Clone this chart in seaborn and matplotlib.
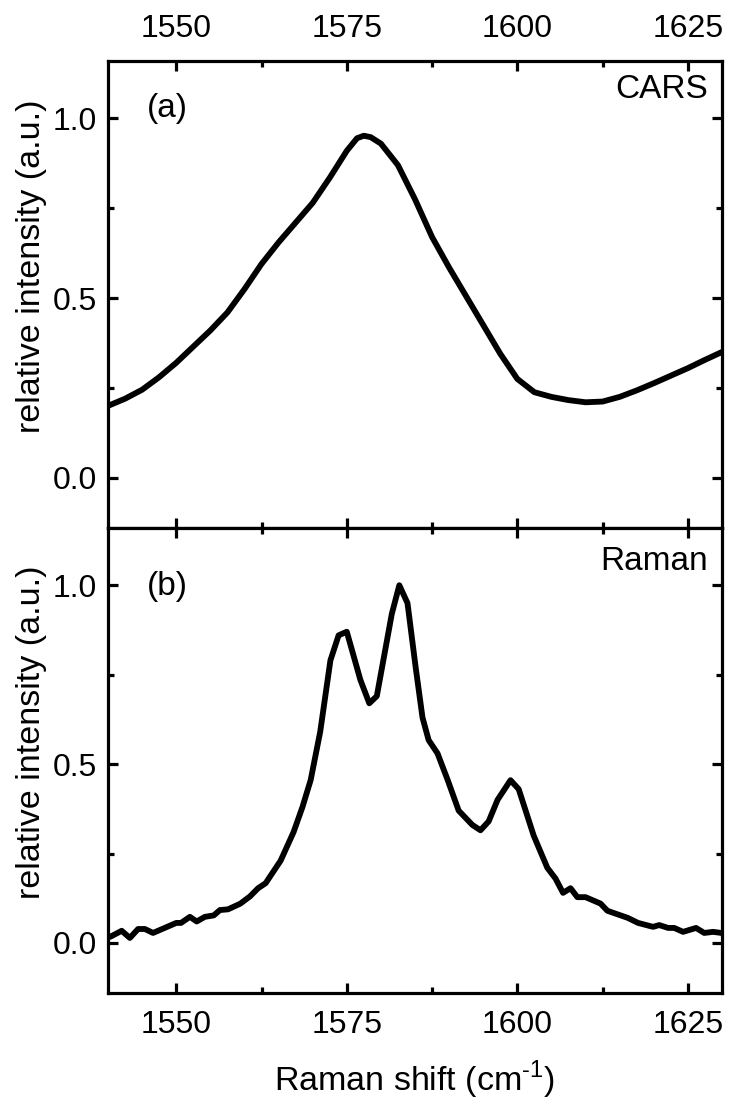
import numpy as np
import pandas as pd
import matplotlib
matplotlib.use("Agg")
import matplotlib.pyplot as plt
import seaborn as sns
from matplotlib.ticker import MultipleLocator, FormatStrFormatter

# CARS spectrum (panel a)
cars_shift = [1540, 1542.5, 1545, 1547.5, 1550, 1552.5, 1555, 1557.5, 1560, 1562.5,
              1565, 1567.5, 1570, 1572.5, 1575, 1576.5, 1577.5, 1578.5, 1580, 1582.5,
              1585, 1587.5, 1590, 1592.5, 1595, 1597.5, 1600, 1602.5, 1605, 1607.5,
              1610, 1612.5, 1615, 1617.5, 1620, 1622.5, 1625, 1627.5, 1630]
cars_int = [0.200, 0.220, 0.245, 0.280, 0.320, 0.365, 0.410, 0.460, 0.525, 0.595,
            0.655, 0.710, 0.765, 0.835, 0.910, 0.945, 0.952, 0.948, 0.930, 0.870,
            0.775, 0.670, 0.585, 0.505, 0.425, 0.345, 0.275, 0.238, 0.225, 0.216,
            0.210, 0.212, 0.225, 0.243, 0.263, 0.284, 0.305, 0.328, 0.350]

# Raman spectrum (panel b)
raman_shift = [1540.3, 1542.0, 1543.2, 1544.4, 1545.4, 1546.6, 1548.3, 1550.0, 1550.7,
               1552.0, 1553.0, 1554.2, 1555.5, 1556.4, 1557.6, 1559.4, 1560.8, 1562.0,
               1563.1, 1565.3, 1567.2, 1568.5, 1569.7, 1571.1, 1572.6, 1573.8, 1575.0,
               1577.0, 1578.3, 1579.4, 1581.6, 1582.7, 1583.9, 1585.1, 1586.1, 1587.0,
               1588.3, 1589.8, 1591.4, 1593.4, 1594.6, 1595.8, 1597.1, 1599.0, 1600.2,
               1602.4, 1604.4, 1605.6, 1606.7, 1607.8, 1608.8, 1610.0, 1612.2, 1613.2,
               1616.2, 1617.7, 1619.9, 1620.8, 1622.1, 1623.0, 1624.3, 1626.2, 1627.4,
               1628.7, 1629.9]
raman_int = [0.017, 0.034, 0.014, 0.039, 0.039, 0.028, 0.042, 0.056, 0.056,
             0.073, 0.060, 0.073, 0.077, 0.092, 0.094, 0.110, 0.130, 0.153,
             0.167, 0.230, 0.310, 0.380, 0.455, 0.590, 0.790, 0.860, 0.870,
             0.735, 0.670, 0.690, 0.920, 1.000, 0.950, 0.770, 0.630, 0.567,
             0.530, 0.455, 0.370, 0.330, 0.315, 0.340, 0.400, 0.455, 0.430,
             0.300, 0.210, 0.180, 0.140, 0.153, 0.128, 0.128, 0.110, 0.090,
             0.070, 0.056, 0.045, 0.050, 0.042, 0.042, 0.031, 0.042, 0.028,
             0.031, 0.028]

sns.set_style("ticks")
plt.rcParams['font.family'] = ['Liberation Sans', 'DejaVu Sans']
plt.rcParams['mathtext.fontset'] = 'custom'
plt.rcParams['mathtext.rm'] = 'Liberation Sans'
plt.rcParams['text.color'] = 'black'
plt.rcParams['axes.labelcolor'] = 'black'
plt.rcParams['xtick.color'] = 'black'
plt.rcParams['ytick.color'] = 'black'
plt.rcParams['axes.edgecolor'] = 'black'

FS_TICK = 23
FS_LABEL = 24.5
FS_TEXT = 24
LW_AX = 2.3

fig = plt.figure(figsize=(7.3, 11.03), dpi=100)
ax_top = fig.add_axes([0.148, 0.5213, 0.841, 0.4234])
ax_bot = fig.add_axes([0.148, 0.0997, 0.841, 0.4216])

df_cars = pd.DataFrame({'shift': cars_shift, 'intensity': cars_int})
df_raman = pd.DataFrame({'shift': raman_shift, 'intensity': raman_int})

sns.lineplot(data=df_cars, x='shift', y='intensity', ax=ax_top, color='black', lw=4.2)
sns.lineplot(data=df_raman, x='shift', y='intensity', ax=ax_bot, color='black', lw=4.2)

for ax in (ax_top, ax_bot):
    ax.set_xlim(1540, 1630)
    ax.set_ylim(-0.14, 1.16)
    ax.xaxis.set_major_locator(MultipleLocator(25))
    ax.xaxis.set_minor_locator(MultipleLocator(12.5))
    ax.yaxis.set_major_locator(MultipleLocator(0.5))
    ax.yaxis.set_minor_locator(MultipleLocator(0.25))
    ax.yaxis.set_major_formatter(FormatStrFormatter('%.1f'))
    for sp in ax.spines.values():
        sp.set_visible(True)
        sp.set_linewidth(LW_AX)
        sp.set_color('black')
    ax.tick_params(which='both', direction='in', top=True, bottom=True,
                   left=True, right=True, width=LW_AX, labelsize=FS_TICK)
    ax.tick_params(which='major', length=7.5)
    ax.tick_params(which='minor', length=4)
    ax.tick_params(axis='y', pad=8)
    ax.tick_params(axis='x', pad=12)
    ax.set_ylabel('relative intensity (a.u.)', fontsize=FS_LABEL)
    ax.yaxis.set_label_coords(-0.1, 0.56)

ax_top.tick_params(axis='x', labeltop=True, labelbottom=False)
ax_top.set_xlabel('')
ax_bot.set_xlabel('Raman shift (cm$^{\\mathregular{\u2010}1}$)', fontsize=FS_LABEL, labelpad=14)

ax_top.text(0.064, 0.899, '(a)', transform=ax_top.transAxes, fontsize=FS_TEXT,
            ha='left', va='center')
ax_top.text(0.977, 0.94, 'CARS', transform=ax_top.transAxes, fontsize=FS_TEXT,
            ha='right', va='center')
ax_bot.text(0.064, 0.875, '(b)', transform=ax_bot.transAxes, fontsize=FS_TEXT,
            ha='left', va='center')
ax_bot.text(0.977, 0.927, 'Raman', transform=ax_bot.transAxes, fontsize=FS_TEXT,
            ha='right', va='center')

fig.savefig('out.png', dpi=100)
